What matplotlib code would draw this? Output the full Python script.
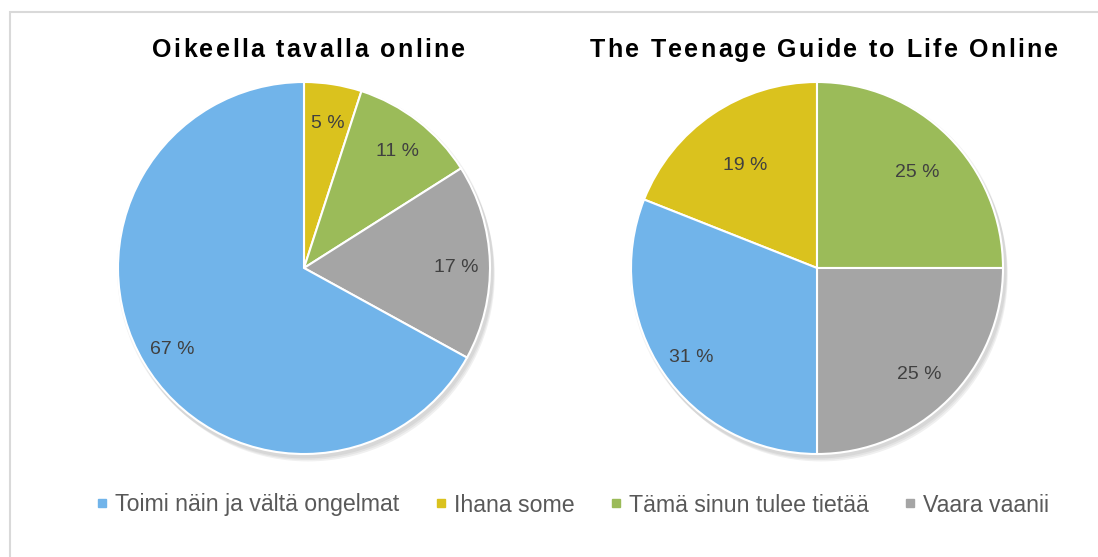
import matplotlib
matplotlib.use("Agg")
import numpy as np
import matplotlib.pyplot as plt
import matplotlib.transforms as mtransforms
from matplotlib.patches import Rectangle, Circle
from matplotlib.lines import Line2D
from matplotlib.font_manager import FontProperties

# ---- data ----
categories = ["Toimi näin ja vältä ongelmat", "Ihana some",
              "Tämä sinun tulee tietää", "Vaara vaanii"]
colors = ["#71B4EA", "#DAC21E", "#9BBB59", "#A5A5A5"]
titles = ["Oikeella tavalla online", "The Teenage Guide to Life Online"]
# values per chart, in category order
left_values = [67, 5, 11, 17]
right_values = [31, 19, 25, 25]

# drawing order (clockwise from start): Ihana, Tämä, Vaara, Toimi
draw_order = [1, 2, 3, 0]
# label distance from centre (fraction of radius), in drawing order
left_label_r = [0.81, 0.82, 0.82, 0.82]
right_label_r = [0.69, 0.76, 0.78, 0.82]

W, H = 1098, 557
fig = plt.figure(figsize=(W / 100, H / 100), dpi=100)
fig.patch.set_facecolor("white")

# outer frame
fig.add_artist(Rectangle((10 / W, -0.1), 1.2, 1 - 12 / H + 0.1,
                         transform=fig.transFigure, fill=False,
                         edgecolor="#D9D9D9", linewidth=1.5))

R_PX = 186
HALF = 200


def make_ax(cx, cy):
    ax = fig.add_axes([(cx - HALF) / W, (H - cy - HALF) / H, 2 * HALF / W, 2 * HALF / H])
    ax.axis("off")
    return ax


def draw_pie(ax, values, startangle, label_r):
    vals = [values[i] for i in draw_order]
    cols = [colors[i] for i in draw_order]
    # soft shadow
    for k, a in enumerate([0.05, 0.05, 0.06]):
        off = 0.012 * (k + 1)
        ax.add_patch(Circle((off * 0.6, -off), 1.0 + 0.004 * (3 - k), color="black",
                            alpha=a, zorder=0, linewidth=0))
    wedges, texts, autotexts = ax.pie(
        vals, colors=cols, startangle=startangle, counterclock=False,
        autopct=lambda p: "%d %%" % round(p), pctdistance=0.81,
        wedgeprops=dict(edgecolor="white", linewidth=1.5),
        textprops=dict(fontsize=14, color="#404040", family="Liberation Sans"))
    shift = mtransforms.ScaledTranslation(0, -4 / 100, fig.dpi_scale_trans)
    for w, t, r in zip(wedges, autotexts, label_r):
        w.set_zorder(1)
        ang = np.deg2rad((w.theta1 + w.theta2) / 2)
        t.set_position((r * np.cos(ang), r * np.sin(ang)))
        t.set_transform(ax.transData + shift)
        t.set_zorder(2)
    lim = HALF / R_PX
    ax.set_xlim(-lim, lim)
    ax.set_ylim(-lim, lim)
    ax.set_aspect("equal")


ax1 = make_ax(304, 268)
draw_pie(ax1, left_values, 90, left_label_r)
ax2 = make_ax(817, 268)
# right chart begins so that the blue slice ends at the top-left
draw_pie(ax2, right_values, 90 + right_values[1] / sum(right_values) * 360, right_label_r)

# letter-spaced titles
renderer = fig.canvas.get_renderer()
tprop = FontProperties(family="Liberation Sans", weight="bold", size=18)


def char_width(ch):
    if ch == " ":
        w1, _, _ = renderer.get_text_width_height_descent("a a", tprop, ismath=False)
        w2, _, _ = renderer.get_text_width_height_descent("aa", tprop, ismath=False)
        return w1 - w2
    w, _, _ = renderer.get_text_width_height_descent(ch, tprop, ismath=False)
    return w


def spaced_title(x0_px, x1_px, y_px, s):
    widths = [char_width(ch) for ch in s]
    spacing = (x1_px - x0_px - sum(widths)) / (len(s) - 1)
    x = x0_px
    for ch, w in zip(s, widths):
        if ch != " ":
            fig.text(x / W, 1 - y_px / H, ch, fontproperties=tprop, color="black",
                     ha="left", va="baseline")
        x += w + spacing


spaced_title(152, 465, 57, titles[0])
spaced_title(590, 1058, 57, titles[1])

# legend
handles = [Line2D([], [], marker="s", linestyle="none", markersize=6.2,
                  markerfacecolor=c, markeredgecolor=c) for c in colors]
leg = fig.legend(handles, categories, loc="center", bbox_to_anchor=(573 / W, 1 - 505 / H),
                 ncol=4, frameon=False, handlelength=0.45, handletextpad=0.35,
                 columnspacing=1.55, borderpad=0, borderaxespad=0,
                 prop=FontProperties(family="Liberation Sans", size=16.7))
for t in leg.get_texts():
    t.set_color("#595959")

fig.savefig("out.png", dpi=100, facecolor="white")
